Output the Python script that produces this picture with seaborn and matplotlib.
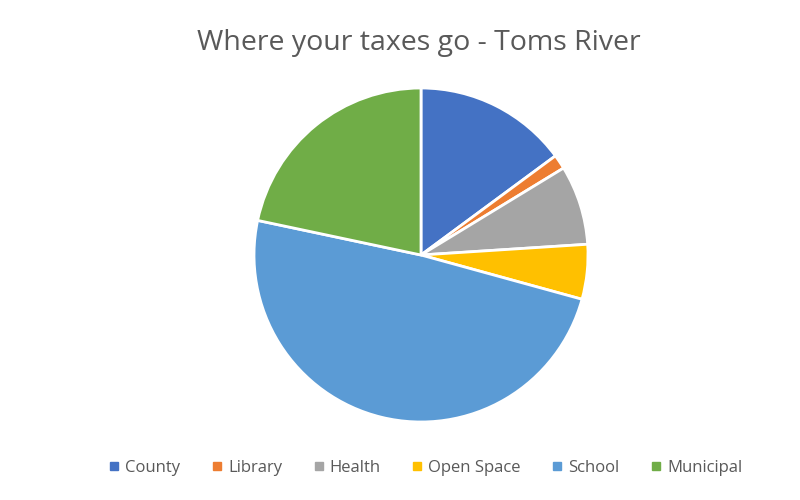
import matplotlib
matplotlib.use("Agg")
import matplotlib.pyplot as plt
from matplotlib.lines import Line2D
import seaborn as sns

categories = ["County", "Library", "Health", "Open Space", "School", "Municipal"]
shares = [14.9, 1.4, 7.7, 5.3, 49.1, 21.7]
colors = ["#4472C4", "#ED7D31", "#A5A5A5", "#FFC000", "#5B9BD5", "#70AD47"]
title = "Where your taxes go - Toms River"

sns.set_theme(style="white")
plt.rcParams["font.family"] = ["Open Sans", "DejaVu Sans"]
palette = sns.color_palette(colors)

fig = plt.figure(figsize=(8, 5), dpi=100)
W, H = 800, 500
cx, cy, r = 421, 255, 167
ax = fig.add_axes([(cx - r) / W, (H - cy - r) / H, 2 * r / W, 2 * r / H])
ax.pie(shares, colors=palette, startangle=90, counterclock=False, radius=1.0,
       wedgeprops=dict(edgecolor="white", linewidth=2))
ax.set_xlim(-1, 1)
ax.set_ylim(-1, 1)
ax.set_aspect("equal")
ax.axis("off")

fig.text(419 / W, 1 - 43 / H, title, ha="center", va="center",
         fontsize=20.5, color="#595959")

handles = [Line2D([0], [0], marker="s", linestyle="", markersize=6,
                  markerfacecolor=c, markeredgecolor=c) for c in palette]
fig.legend(handles, categories, loc="center", bbox_to_anchor=(425 / W, 1 - 468 / H),
           ncol=6, frameon=False, fontsize=12, labelcolor="#595959",
           handletextpad=0.25, columnspacing=1.8, handlelength=0.8)

fig.savefig("out.png", dpi=100, facecolor="white")
